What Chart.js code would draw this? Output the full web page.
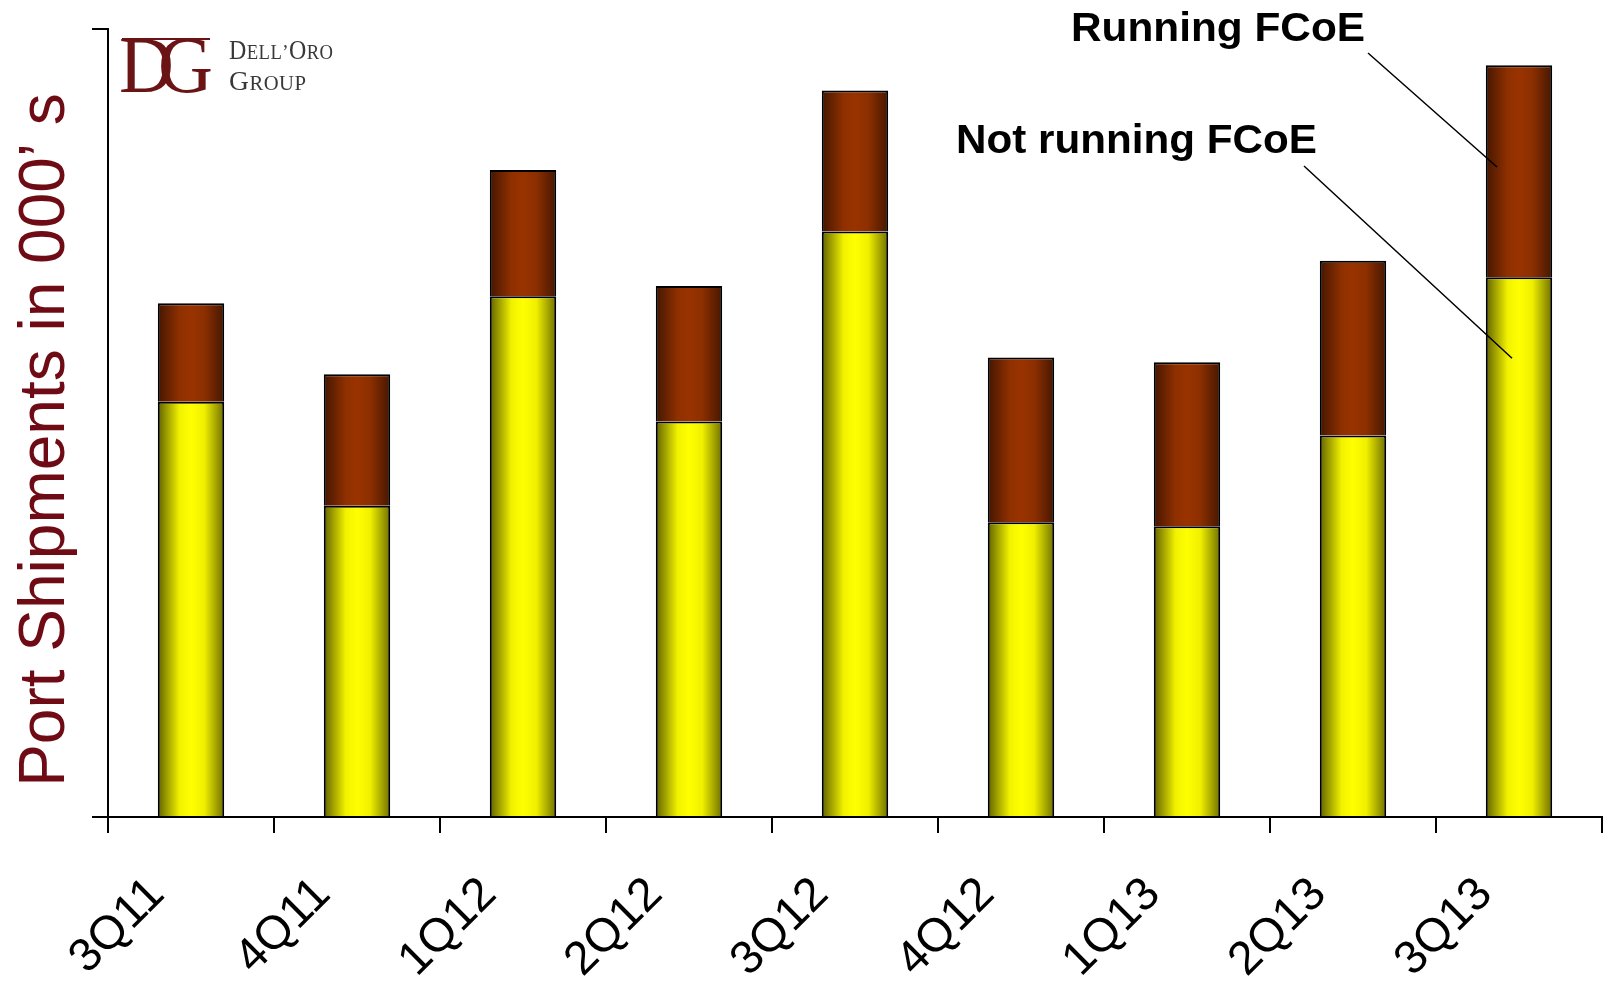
<!DOCTYPE html>
<html>
<head>
<meta charset="utf-8">
<title>Port Shipments – FCoE</title>
<script src="https://cdn.jsdelivr.net/npm/chart.js@4.4.1/dist/chart.umd.min.js"></script>
<style>
  html, body { margin: 0; padding: 0; background: #ffffff; }
  #wrap { position: relative; width: 1608px; height: 982px; }
</style>
</head>
<body>
<div id="wrap"><canvas id="chart"></canvas></div>
<script>
// Quarterly port shipments, split by ports running / not running FCoE
const quarters = ['3Q11', '4Q11', '1Q12', '2Q12', '3Q12', '4Q12', '1Q13', '2Q13', '3Q13'];
const notRunningFCoE = [52.7, 39.5, 66.1, 50.2, 74.3, 37.4, 36.9, 48.4, 68.5];
const runningFCoE    = [12.5, 16.7, 16.0, 17.2, 17.9, 20.9, 20.8, 22.2, 26.9];
const yTicks = [0, 100];          // bare value axis: tick marks only
const seriesNames = ['Not running FCoE', 'Running FCoE'];
const axisTitle = 'Port Shipments in 000\u2019 s';

const BAR_FRACTION = 0.4;

// Cylinder-like horizontal shading for each bar: [offset, colour] stops
function shadedFill(stops) {
  return (ctx) => {
    const chart = ctx.chart;
    const xs = chart.scales && chart.scales.x;
    if (ctx.type !== 'data' || !xs || !chart.chartArea) return stops[2][1];
    const step = Math.abs(xs.getPixelForValue(1) - xs.getPixelForValue(0));
    const cx = xs.getPixelForValue(ctx.dataIndex);
    const half = step * BAR_FRACTION / 2;
    const g = chart.ctx.createLinearGradient(cx - half, 0, cx + half, 0);
    for (const [o, col] of stops) g.addColorStop(o, col);
    return g;
  };
}

function fitText(c, text, x, baseline, width) {
  const w = c.measureText(text).width;
  c.save();
  c.translate(x, baseline);
  c.scale(width / w, 1);
  c.fillText(text, 0, 0);
  c.restore();
}

// Draws a run of small-caps letters ([text, size] pairs), squeezed to a width
function smallCaps(c, parts, x, baseline, spacing, width) {
  const font = s => s + 'px "Liberation Serif", "Times New Roman", serif';
  let total = 0;
  for (const [txt, size] of parts) {
    c.font = font(size);
    for (const ch of txt) total += c.measureText(ch).width + spacing;
  }
  total -= spacing;
  c.save();
  c.translate(x, baseline);
  c.scale(width / total, 1);
  let cx = 0;
  for (const [txt, size] of parts) {
    c.font = font(size);
    for (const ch of txt) {
      c.fillText(ch, cx, 0);
      cx += c.measureText(ch).width + spacing;
    }
  }
  c.restore();
}

const decorations = {
  id: 'decorations',
  afterDraw(chart) {
    const c = chart.ctx;
    const xs = chart.scales.x, ys = chart.scales.y;

    // value-axis title
    c.save();
    c.fillStyle = '#6e0b14';
    c.font = '64px "Liberation Sans", Arial, sans-serif';
    c.textAlign = 'center';
    c.textBaseline = 'alphabetic';
    c.translate(64, 440);
    c.rotate(-Math.PI / 2);
    c.fillText(axisTitle, 0, 0);
    c.restore();

    // company mark
    c.save();
    c.fillStyle = '#6b1416';
    c.strokeStyle = '#6b1416';
    c.textBaseline = 'alphabetic';
    c.font = '80px "Liberation Serif", "Times New Roman", serif';
    c.textAlign = 'left';
    c.save(); c.translate(119, 92); c.scale(0.95, 1); c.fillText('D', 0, 0); c.restore();
    c.textAlign = 'right';
    c.save(); c.translate(213, 92); c.scale(0.95, 1); c.fillText('G', 0, 0); c.restore();
    c.lineWidth = 2;
    c.beginPath(); c.moveTo(122, 39); c.lineTo(210, 39); c.stroke();
    c.fillStyle = '#383838';
    c.textAlign = 'left';
    smallCaps(c, [['D', 27], ['ELL', 21], ['\u2019', 21], ['O', 27], ['RO', 21]], 229, 59, 0.5, 104);
    smallCaps(c, [['G', 28], ['ROUP', 21]], 229, 90, 0.5, 77);
    c.restore();

    // series callouts pointing into the latest bar
    const last = quarters.length - 1;
    const cx = xs.getPixelForValue(last);
    c.save();
    c.fillStyle = '#000';
    c.strokeStyle = '#000';
    c.lineWidth = 1.5;
    c.font = 'bold 40px "Liberation Sans", Arial, sans-serif';
    c.textAlign = 'left';
    c.textBaseline = 'alphabetic';
    fitText(c, seriesNames[1], 1071, 41, 294);
    fitText(c, seriesNames[0], 956, 153, 361);
    c.beginPath();
    c.moveTo(1368, 53);
    c.lineTo(cx - 22, ys.getPixelForValue(notRunningFCoE[last] + runningFCoE[last] * 0.52));
    c.moveTo(1304, 166);
    c.lineTo(cx - 7, ys.getPixelForValue(notRunningFCoE[last] * 0.85));
    c.stroke();
    c.restore();
  }
};

new Chart(document.getElementById('chart'), {
  type: 'bar',
  data: {
    labels: quarters,
    datasets: [
      {
        label: seriesNames[0],
        data: notRunningFCoE,
        backgroundColor: shadedFill([[0, '#626200'], [0.33, '#f2f200'], [0.5, '#ffff00'], [0.7, '#f0f000'], [1, '#707000']]),
        borderColor: '#000000',
        borderWidth: 2,
        categoryPercentage: 1,
        barPercentage: BAR_FRACTION
      },
      {
        label: seriesNames[1],
        data: runningFCoE,
        backgroundColor: shadedFill([[0, '#451600'], [0.33, '#8f3000'], [0.5, '#993300'], [0.7, '#8c2f00'], [1, '#461700']]),
        borderColor: '#000000',
        borderWidth: 2,
        categoryPercentage: 1,
        barPercentage: BAR_FRACTION
      }
    ]
  },
  options: {
    responsive: true,
    maintainAspectRatio: false,
    animation: false,
    events: [],
    layout: { padding: { left: 92, top: 29, right: 6, bottom: 0 } },
    plugins: { legend: { display: false }, tooltip: { enabled: false } },
    scales: {
      x: {
        stacked: true,
        offset: true,
        grid: { offset: true, drawOnChartArea: false, drawTicks: true, tickLength: 16, color: '#000', lineWidth: 2 },
        border: { display: true, color: '#000', width: 2 },
        ticks: {
          autoSkip: false,
          minRotation: 45,
          maxRotation: 45,
          labelOffset: -34,
          padding: 34,
          color: '#000',
          font: { family: '"Liberation Sans", Arial, sans-serif', size: 47 }
        },
        afterFit(scale) { scale.height = 165; }
      },
      y: {
        stacked: true,
        min: yTicks[0],
        max: yTicks[yTicks.length - 1],
        afterBuildTicks(scale) { scale.ticks = yTicks.map(v => ({ value: v })); },
        grid: { drawOnChartArea: false, drawTicks: true, tickLength: 16, color: '#000', lineWidth: 2 },
        border: { display: true, color: '#000', width: 2 },
        ticks: { display: false },
        afterFit(scale) { scale.width = 16; }
      }
    }
  },
  plugins: [decorations]
});
</script>
</body>
</html>
